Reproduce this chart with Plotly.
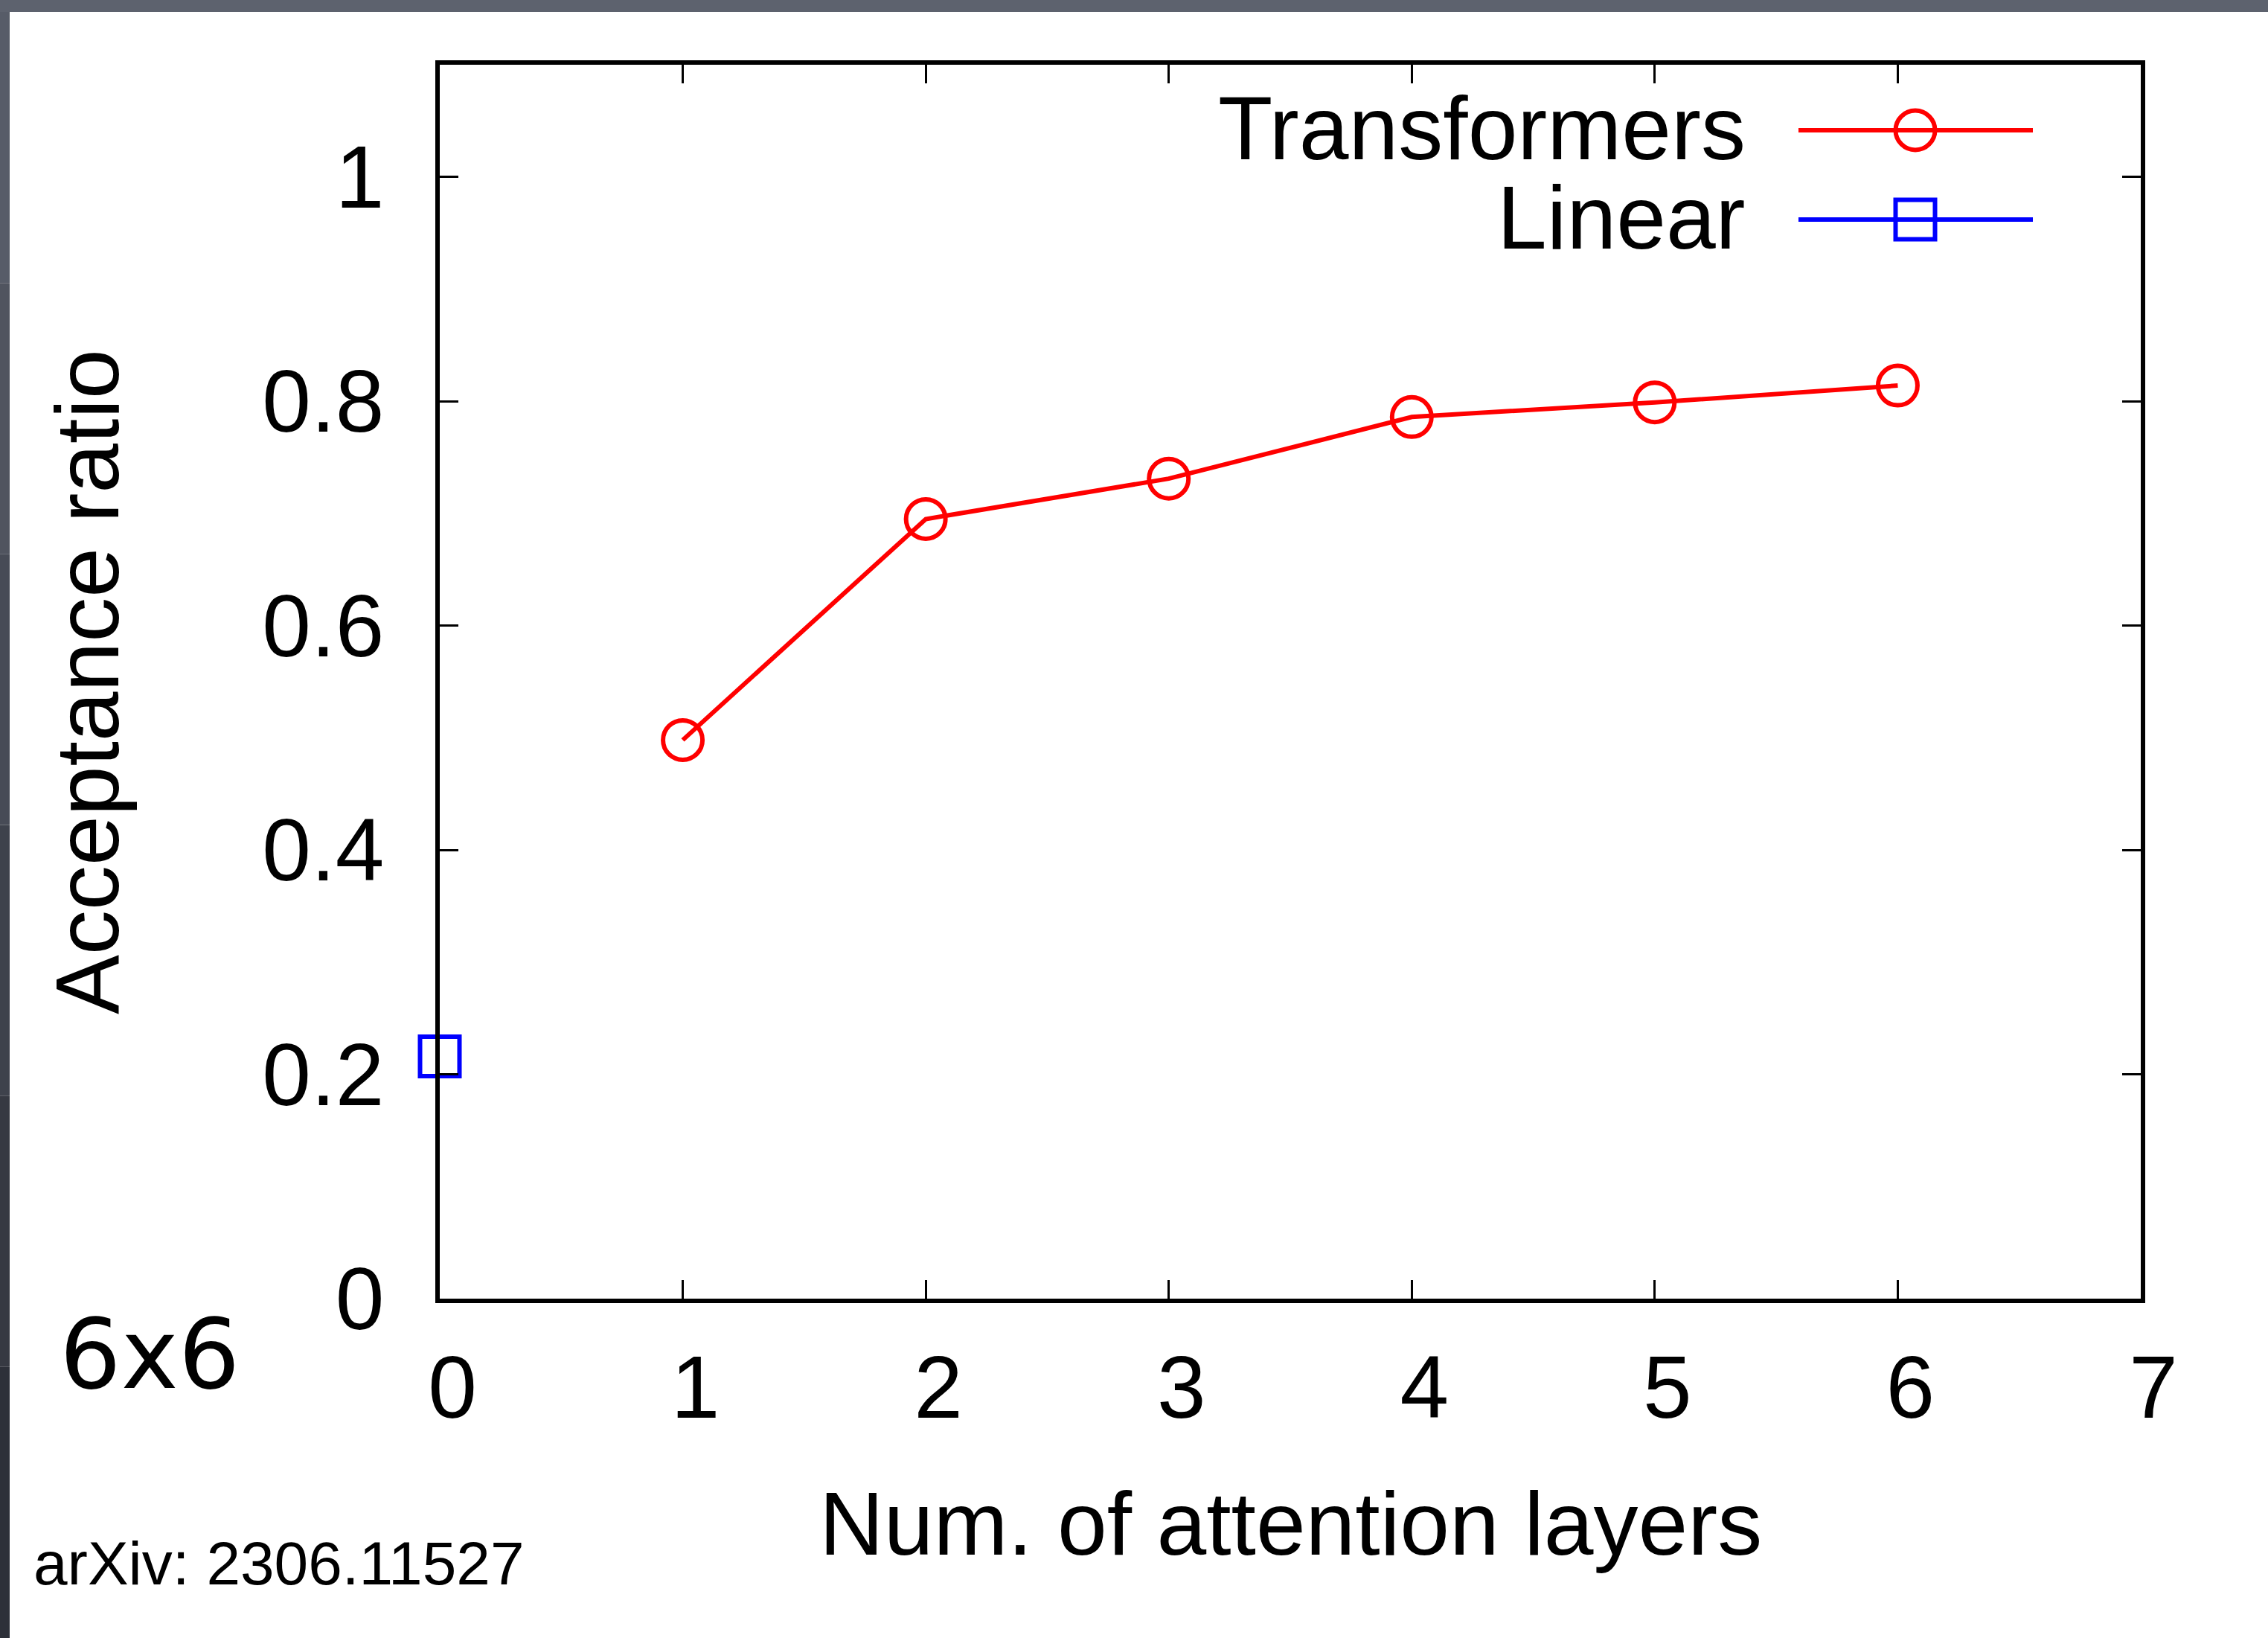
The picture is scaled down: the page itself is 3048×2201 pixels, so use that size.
import plotly.graph_objects as go

# ---- data ----
layers = [1, 2, 3, 4, 5, 6]
transformers_ratio = [0.498, 0.695, 0.731, 0.786, 0.799, 0.814]
linear_x = [0]
linear_ratio = [0.216]

x_tickvals = [0, 1, 2, 3, 4, 5, 6, 7]
x_ticktext = ["0", "1", "2", "3", "4", "5", "6", "7"]
y_tickvals = [0, 0.2, 0.4, 0.6, 0.8, 1.0]
y_ticktext = ["0", "0.2", "0.4", "0.6", "0.8", "1"]

series_names = ["Transformers", "Linear"]
x_title = "Num. of attention layers"
y_title = "Acceptance ratio"
size_label = "6x6"
source_label = "arXiv: 2306.11527"

# ---- geometry (pixels) ----
W, H = 3048, 2201
L, R, T, B = 591, 2877, 87, 1745


def xp(px):
    return (px - L) / (R - L)


def yp(py):
    return (B - py) / (B - T)


FONT = "Liberation Sans, Arial, Helvetica, sans-serif"
RED = "#ff0000"
BLUE = "#0000ff"

fig = go.Figure()
fig.add_trace(go.Scatter(
    x=layers, y=transformers_ratio, name=series_names[0],
    mode="lines+markers",
    line=dict(color=RED, width=6),
    marker=dict(symbol="circle-open", size=53, color=RED, line=dict(width=6, color=RED)),
    showlegend=False, cliponaxis=False,
))
fig.add_trace(go.Scatter(
    x=linear_x, y=linear_ratio, name=series_names[1],
    mode="lines+markers",
    line=dict(color=BLUE, width=6),
    marker=dict(symbol="square-open", size=53, color=BLUE, line=dict(width=6, color=BLUE)),
    showlegend=False, cliponaxis=False,
))

axis_common = dict(
    showline=True, linecolor="black", linewidth=6, mirror="allticks",
    ticks="inside", ticklen=25, tickwidth=3, tickcolor="black",
    showgrid=False, zeroline=False,
    tickfont=dict(family=FONT, size=118, color="black"),
)

fig.update_xaxes(range=[0, 7], tickmode="array", tickvals=x_tickvals, ticktext=x_ticktext,
                 ticklabelshift=17, ticklabelstandoff=12, **axis_common)
fig.update_yaxes(range=[0, 1.1], tickmode="array", tickvals=y_tickvals, ticktext=y_ticktext,
                 ticklabelstandoff=45, **axis_common)

shapes = []
# dark frame strips (top and left)
shapes.append(dict(type="rect", xref="paper", yref="paper", x0=xp(0), x1=xp(W), y0=yp(16), y1=yp(0),
                   fillcolor="#5d626e", line=dict(width=0), layer="above"))
strip_cols = ["#575c68", "#50545f", "#474b56", "#3e424c", "#363942", "#2d3039"]
n = len(strip_cols)
for i, c in enumerate(strip_cols):
    shapes.append(dict(type="rect", xref="paper", yref="paper", x0=xp(0), x1=xp(13),
                       y0=yp(16 + (H - 16) * (i + 1) / n), y1=yp(16 + (H - 16) * i / n),
                       fillcolor=c, line=dict(width=0), layer="above"))

# legend samples (gnuplot style: text left, sample right)
leg_rows = [(175, RED, "circle"), (295, BLUE, "rect")]
for cy, col, kind in leg_rows:
    shapes.append(dict(type="line", xref="paper", yref="paper", x0=xp(2417), x1=xp(2732),
                       y0=yp(cy), y1=yp(cy), line=dict(color=col, width=6)))
    r = 26.5
    shapes.append(dict(type=kind, xref="paper", yref="paper", x0=xp(2574 - r), x1=xp(2574 + r),
                       y0=yp(cy + r), y1=yp(cy - r), line=dict(color=col, width=6),
                       fillcolor="rgba(0,0,0,0)"))

annotations = []
annotations.append(dict(text=series_names[0], xref="paper", yref="paper", x=xp(2348), y=yp(172),
                        xanchor="right", yanchor="middle", showarrow=False, height=110,
                        font=dict(family=FONT, size=120, color="black")))
annotations.append(dict(text=series_names[1], xref="paper", yref="paper", x=xp(2348), y=yp(292),
                        xanchor="right", yanchor="middle", showarrow=False, height=110,
                        font=dict(family=FONT, size=120, color="black")))
annotations.append(dict(text=x_title, xref="paper", yref="paper", x=0.5, y=yp(2047),
                        xanchor="center", yanchor="middle", showarrow=False,
                        font=dict(family=FONT, size=120, color="black")))
annotations.append(dict(text=y_title, xref="paper", yref="paper", x=xp(117), y=0.5, textangle=-90,
                        xanchor="center", yanchor="middle", showarrow=False,
                        font=dict(family=FONT, size=120, color="black")))
annotations.append(dict(text=size_label, xref="paper", yref="paper", x=xp(201), y=yp(1820),
                        xanchor="center", yanchor="middle", showarrow=False,
                        font=dict(family="DejaVu Sans", size=130, color="black")))
annotations.append(dict(text=source_label, xref="paper", yref="paper", x=xp(43), y=yp(2100),
                        xanchor="left", yanchor="middle", showarrow=False,
                        font=dict(family=FONT, size=82, color="black")))

fig.update_layout(
    width=W, height=H,
    margin=dict(l=L, r=W - R, t=T, b=H - B, pad=0),
    paper_bgcolor="white", plot_bgcolor="white",
    showlegend=False,
    shapes=shapes, annotations=annotations,
)

fig.write_html("out.html")
